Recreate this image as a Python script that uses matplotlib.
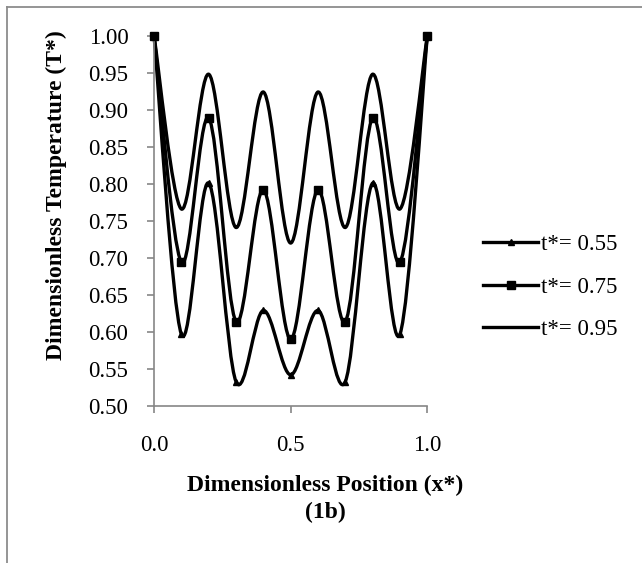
import matplotlib
matplotlib.use("Agg")
import matplotlib.pyplot as plt
from matplotlib.path import Path
from matplotlib.patches import PathPatch
from matplotlib.lines import Line2D
import numpy as np

x = [0.0, 0.1, 0.2, 0.3, 0.4, 0.5, 0.6, 0.7, 0.8, 0.9, 1.0]
t055 = [1.00, 0.597, 0.801, 0.533, 0.629, 0.542, 0.629, 0.533, 0.801, 0.597, 1.00]
t075 = [1.00, 0.694, 0.889, 0.614, 0.792, 0.590, 0.792, 0.614, 0.889, 0.694, 1.00]
t095 = [1.00, 0.766, 0.948, 0.741, 0.924, 0.720, 0.924, 0.741, 0.948, 0.766, 1.00]
labels = ["t*= 0.55", "t*= 0.75", "t*= 0.95"]
xticks = [0.0, 0.5, 1.0]
yticks = [0.50, 0.55, 0.60, 0.65, 0.70, 0.75, 0.80, 0.85, 0.90, 0.95, 1.00]

plt.rcParams['font.family'] = ['Liberation Serif', 'DejaVu Serif']

fig = plt.figure(figsize=(6.42, 5.63), dpi=100)
ax = fig.add_axes([0.2399, 0.2789, 0.4257, 0.6577])

def smooth_path(xs, ys):
    P = np.column_stack([xs, ys])
    n = len(P)
    verts = [P[0]]
    codes = [Path.MOVETO]
    for i in range(n - 1):
        p0 = P[i - 1] if i > 0 else P[i]
        p1 = P[i]
        p2 = P[i + 1]
        p3 = P[i + 2] if i + 2 < n else P[i + 1]
        c1 = p1 + (p2 - p0) / 6.0
        c2 = p2 - (p3 - p1) / 6.0
        verts += [c1, c2, p2]
        codes += [Path.CURVE4] * 3
    return Path(verts, codes)

lw = 2.4
for ys in (t095, t075, t055):
    ax.add_patch(PathPatch(smooth_path(x, ys), facecolor='none', edgecolor='black',
                           lw=lw, capstyle='butt', joinstyle='round', clip_on=False,
                           zorder=2))

ax.plot(x, t055, linestyle='none', marker='^', color='black', markersize=5,
        clip_on=False, zorder=3)
ax.plot(x, t075, linestyle='none', marker='s', color='black', markersize=6,
        clip_on=False, zorder=3)

ax.set_xlim(0, 1.0)
ax.set_ylim(0.5, 1.0)
ax.set_xticks(xticks)
ax.set_xticklabels([f"{v:.1f}" for v in xticks])
ax.set_yticks(yticks)
ax.set_yticklabels([f"{v:.2f}" for v in yticks])

gray = '#868686'
for s in ('top', 'right'):
    ax.spines[s].set_visible(False)
for s in ('left', 'bottom'):
    ax.spines[s].set_color(gray)
    ax.spines[s].set_linewidth(1.2)
ax.tick_params(axis='y', direction='out', length=5, width=1.2, color=gray,
               labelsize=16.5, pad=13.5)
ax.tick_params(axis='x', direction='out', length=5, width=1.2, color=gray,
               labelsize=16.5, pad=16)

handles = [
    Line2D([], [], color='black', lw=lw, marker='^', markersize=5),
    Line2D([], [], color='black', lw=lw, marker='s', markersize=6),
    Line2D([], [], color='black', lw=lw),
]
ax.legend(handles, labels, loc='center left', frameon=False, fontsize=16.5,
          handlelength=2.4, handletextpad=0.12, labelspacing=0.92,
          borderaxespad=0, borderpad=0,
          bbox_to_anchor=(483 / 642, 1 - 287 / 563), bbox_transform=fig.transFigure)

fig.text(325 / 642, 1 - 485 / 563, "Dimensionless Position (x*)", ha='center', va='center',
         fontsize=17, fontweight='bold')
fig.text(325 / 642, 1 - 512 / 563, "(1b)", ha='center', va='center',
         fontsize=17, fontweight='bold')
fig.text(56 / 642, 1 - 195 / 563, "Dimensionless Temperature (T*)", ha='center', va='center',
         rotation=90, fontsize=17, fontweight='bold')

fig.add_artist(Line2D([7 / 642, 7 / 642], [0, 1 - 7 / 563], transform=fig.transFigure,
                      color='#8c8c8c', lw=1.3))
fig.add_artist(Line2D([7 / 642, 1], [1 - 7 / 563, 1 - 7 / 563], transform=fig.transFigure,
                      color='#8c8c8c', lw=1.3))

fig.savefig("out.png", dpi=100)
